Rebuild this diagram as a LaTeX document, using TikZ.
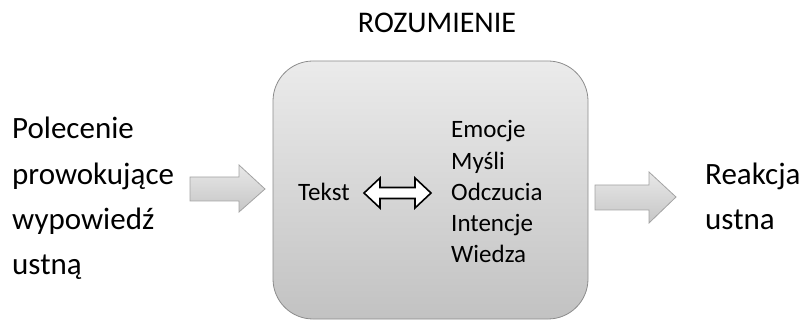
\documentclass[tikz,border=0pt]{standalone}
\usepackage{fontspec}
\setmainfont{Carlito}
\usepackage{tikz}
\usetikzlibrary{positioning,calc}

\definecolor{boxtop}{HTML}{EBEBEB}
\definecolor{boxbot}{HTML}{C2C2C2}
\definecolor{boxline}{HTML}{8C8C8C}
\definecolor{arrtop}{HTML}{E8E8E8}
\definecolor{arrbot}{HTML}{C6C6C6}
\definecolor{arrline}{HTML}{A3A3A3}

\begin{document}
\begin{tikzpicture}[
	x=1pt,y=-1pt,
	bigtext/.style={
		font=\fontsize{31}{36}\selectfont,
		inner sep=0pt,
		anchor=base west
	},
	smalltext/.style={
		font=\fontsize{25}{30}\selectfont,
		inner sep=0pt,
		anchor=base west
	},
	blockarrow/.style={
		draw=arrline,
		line width=0.8pt,
		top color=arrtop,
		bottom color=arrbot
	},
	]
	\useasboundingbox (0,0) rectangle (803,320);
	
	\node[bigtext, anchor=base, font=\fontsize{30}{36}\selectfont] (title) at (437,33) {ROZUMIENIE};
	\node[draw=boxline, line width=0.8pt, rounded corners=40pt,
		top color=boxtop, bottom color=boxbot,
		minimum width=315pt, minimum height=258pt] (box) at (430.5,190) {};
	
	% left side
	\node[bigtext] (p1) at (12,139) {Polecenie};
	\node[bigtext] (p2) at (12,184.3) {prowokujące};
	\node[bigtext] (p3) at (12,229.6) {wypowiedź};
	\node[bigtext] (p4) at (12,275) {ustną};
	\draw[blockarrow] (190,177) -- (239,177) -- (239,165) -- (265,189)
		-- (239,212) -- (239,201) -- (190,201) -- cycle;
	
	% inside
	\node[smalltext] (tekst) at (298,200.4) {Tekst};
	\foreach \w [count=\i from 0] in {Emocje,Myśli,Odczucia,Intencje,Wiedza}
		\node[smalltext] (w\i) at (451,138+31.2*\i) {\w};
	\draw[line width=1.6pt, fill=white, line join=miter]
		(364,193) -- (380,178) -- (380,187.5) -- (415,187.5) -- (415,178)
		-- (431,193) -- (415,208) -- (415,198.5) -- (380,198.5) -- (380,208) -- cycle;
	
	% right side
	\draw[blockarrow] (595,185) -- (649,185) -- (649,172) -- (676,197)
		-- (649,223) -- (649,210) -- (595,210) -- cycle;
	\node[bigtext] (r1) at (705,185) {Reakcja};
	\node[bigtext] (r2) at (705,230) {ustna};
\end{tikzpicture}
\end{document}
